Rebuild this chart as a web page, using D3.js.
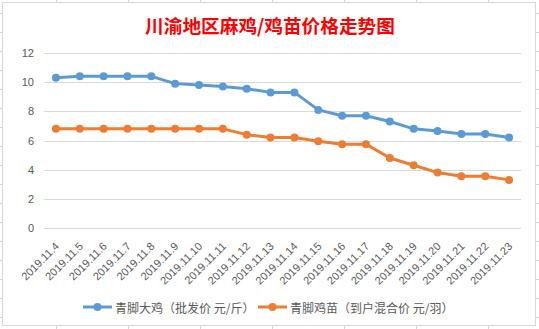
<!DOCTYPE html>
<html>
<head>
<meta charset="utf-8">
<script src="https://cdn.jsdelivr.net/npm/d3@7"></script>
<style>
html,body{margin:0;padding:0;background:#fff;}
svg{display:block;}
</style>
</head>
<body>
<svg id="chart" width="539" height="329"></svg>
<script>
const title = "川渝地区麻鸡/鸡苗价格走势图";
const categories = ["2019.11.4","2019.11.5","2019.11.6","2019.11.7","2019.11.8","2019.11.9","2019.11.10","2019.11.11","2019.11.12","2019.11.13","2019.11.14","2019.11.15","2019.11.16","2019.11.17","2019.11.18","2019.11.19","2019.11.20","2019.11.21","2019.11.22","2019.11.23"];
const seriesNames = ["青脚大鸡（批发价 元/斤）","青脚鸡苗（到户混合价 元/羽）"];
const chickenPrice = [10.3,10.4,10.4,10.4,10.4,9.9,9.8,9.7,9.55,9.3,9.3,8.1,7.7,7.7,7.3,6.8,6.65,6.45,6.45,6.2];
const chickPrice = [6.8,6.8,6.8,6.8,6.8,6.8,6.8,6.8,6.4,6.2,6.2,5.95,5.75,5.75,4.8,4.3,3.8,3.55,3.55,3.3];
const yTicks = [0,2,4,6,8,10,12];
const colors = ["#5B9BD5","#ED7D31"];

const svg = d3.select("#chart");
const W = 539, H = 329;

// spreadsheet background grid
const sheet = svg.append("g");
d3.range(56, W, 72).forEach(x => sheet.append("line").attr("x1", x+0.5).attr("x2", x+0.5).attr("y1", 0).attr("y2", H).attr("stroke", "#d4d4d4"));
d3.range(13, H, 19).forEach(y => sheet.append("line").attr("y1", y+0.5).attr("y2", y+0.5).attr("x1", 0).attr("x2", W).attr("stroke", "#d4d4d4"));

// chart area
svg.append("rect").attr("x", 2.5).attr("y", 2.5).attr("width", 533).attr("height", 323)
  .attr("fill", "#fff").attr("stroke", "#d9d9d9");

svg.append("text").attr("x", 270).attr("y", 24)
  .attr("text-anchor", "middle").attr("dominant-baseline", "central")
  .attr("font-family", "'Noto Sans CJK SC'").attr("font-size", 18.67).attr("font-weight", "bold")
  .attr("fill", "#ff0000").text(title);

const x = d3.scaleBand().domain(categories).range([44, 521]).padding(0);
const y = d3.scaleLinear().domain([0, 12]).range([228, 53]);
const cx = d => x(d) + x.bandwidth() / 2;

// gridlines + y labels
const yAxis = d3.axisLeft(y).tickValues(yTicks).tickSize(-(521 - 44)).tickPadding(10).tickFormat(d3.format("d"));
const gy = svg.append("g").attr("transform", "translate(44,0)").call(yAxis);
gy.select(".domain").remove();
gy.selectAll(".tick line").attr("stroke", "#d9d9d9").attr("shape-rendering", "crispEdges");
gy.selectAll(".tick text").attr("fill", "#595959").attr("font-family", "'Liberation Sans'").attr("font-size", 11).attr("x", -10);

// x labels
const xAxis = d3.axisBottom(x).tickSize(0).tickPadding(0);
const gx = svg.append("g").attr("transform", "translate(0,228)").call(xAxis);
gx.select(".domain").remove();
gx.selectAll(".tick text")
  .attr("fill", "#595959").attr("font-family", "'Liberation Sans'").attr("font-size", 11)
  .attr("text-anchor", "end").attr("dy", 0).attr("y", 0)
  .attr("transform", "translate(4,19) rotate(-45)");

const line = d3.line().x((d, i) => cx(categories[i])).y(d => y(d));
[chickenPrice, chickPrice].forEach((vals, si) => {
  svg.append("path").datum(vals).attr("d", line).attr("fill", "none")
    .attr("stroke", colors[si]).attr("stroke-width", 3).attr("stroke-linejoin", "round");
  svg.append("g").selectAll("circle").data(vals).join("circle")
    .attr("cx", (d, i) => cx(categories[i])).attr("cy", d => y(d)).attr("r", 4)
    .attr("fill", colors[si]);
});

// legend
const legendPos = [{lx: 83, tx: 115}, {lx: 258, tx: 290}];
seriesNames.forEach((name, i) => {
  const p = legendPos[i];
  svg.append("line").attr("x1", p.lx).attr("x2", p.lx + 29).attr("y1", 307).attr("y2", 307)
    .attr("stroke", colors[i]).attr("stroke-width", 3);
  svg.append("circle").attr("cx", p.lx + 14.5).attr("cy", 307).attr("r", 4).attr("fill", colors[i]);
  svg.append("text").attr("x", p.tx).attr("y", 307).attr("dominant-baseline", "central")
    .attr("font-family", "'Noto Sans CJK SC'").attr("font-size", 12).attr("fill", "#595959").text(name);
});
</script>
</body>
</html>
